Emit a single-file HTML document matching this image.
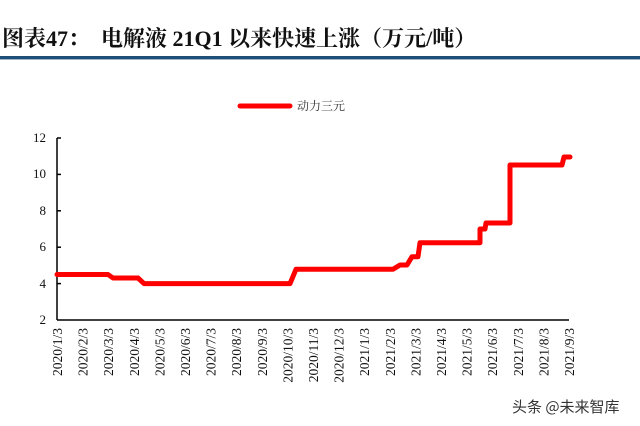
<!DOCTYPE html>
<html><head><meta charset="utf-8"><style>
body{margin:0;background:#fff;width:640px;height:426px;overflow:hidden;position:relative}
.t{position:absolute;left:2px;top:22px;font:bold 22px "Liberation Serif","Noto Serif CJK SC",serif;color:#111;white-space:nowrap}
</style></head><body>
<div class="t">图表47：&nbsp;&nbsp;电解液 21Q1 以来快速上涨（万元/吨）</div>
<div style="position:absolute;left:0;top:56px;width:640px;height:3px;background:#1f4e79"></div>
<div style="position:absolute;left:0;top:59px;width:640px;height:1px;background:#9fb4c8"></div>
<svg width="640" height="426" style="position:absolute;left:0;top:0" font-family="Liberation Serif,serif" font-size="13" fill="#111">
<line x1="240" y1="106" x2="290" y2="106" stroke="#f00" stroke-width="5" stroke-linecap="round"/>
<text x="297" y="110" font-size="12" font-family="Noto Serif CJK SC,serif" fill="#333">动力三元</text>
<g stroke="#000" stroke-width="1.5">
<line x1="57" y1="138" x2="57" y2="320"/><line x1="57" y1="320" x2="569" y2="320"/>
<line x1="57" y1="138" x2="61" y2="138"/><line x1="57" y1="174.4" x2="61" y2="174.4"/><line x1="57" y1="210.8" x2="61" y2="210.8"/><line x1="57" y1="247.2" x2="61" y2="247.2"/><line x1="57" y1="283.6" x2="61" y2="283.6"/>
</g>
<g text-anchor="end"><text x="46" y="142">12</text><text x="46" y="178">10</text><text x="46" y="215">8</text><text x="46" y="251">6</text><text x="46" y="288">4</text><text x="46" y="324">2</text></g>
<g text-anchor="end" font-size="13.5">
<text transform="translate(62,328) rotate(-90)">2020/1/3</text>
<text transform="translate(87.6,328) rotate(-90)">2020/2/3</text>
<text transform="translate(113.2,328) rotate(-90)">2020/3/3</text>
<text transform="translate(138.8,328) rotate(-90)">2020/4/3</text>
<text transform="translate(164.4,328) rotate(-90)">2020/5/3</text>
<text transform="translate(190,328) rotate(-90)">2020/6/3</text>
<text transform="translate(215.6,328) rotate(-90)">2020/7/3</text>
<text transform="translate(241.2,328) rotate(-90)">2020/8/3</text>
<text transform="translate(266.8,328) rotate(-90)">2020/9/3</text>
<text transform="translate(292.4,328) rotate(-90)">2020/10/3</text>
<text transform="translate(318,328) rotate(-90)">2020/11/3</text>
<text transform="translate(343.6,328) rotate(-90)">2020/12/3</text>
<text transform="translate(369.2,328) rotate(-90)">2021/1/3</text>
<text transform="translate(394.8,328) rotate(-90)">2021/2/3</text>
<text transform="translate(420.4,328) rotate(-90)">2021/3/3</text>
<text transform="translate(446,328) rotate(-90)">2021/4/3</text>
<text transform="translate(471.6,328) rotate(-90)">2021/5/3</text>
<text transform="translate(497.2,328) rotate(-90)">2021/6/3</text>
<text transform="translate(522.8,328) rotate(-90)">2021/7/3</text>
<text transform="translate(548.4,328) rotate(-90)">2021/8/3</text>
<text transform="translate(574,328) rotate(-90)">2021/9/3</text>
</g>
<polyline fill="none" stroke="#f00" stroke-width="5" stroke-linejoin="round" stroke-linecap="round" points="57,274.5 108,274.5 113,278 138,278 144,283.6 290,283.6 296,269.3 393,269.3 400,265 407,265 412,256.7 418,256.7 420,242.7 480,242.7 480,229 485,229 486,223 510,223 510,165 562,165 564,157 570,157"/>
<text x="512" y="412" font-size="15" font-family="Noto Sans CJK SC,sans-serif" fill="#333">头条 @未来智库</text>
</svg>
</body></html>
